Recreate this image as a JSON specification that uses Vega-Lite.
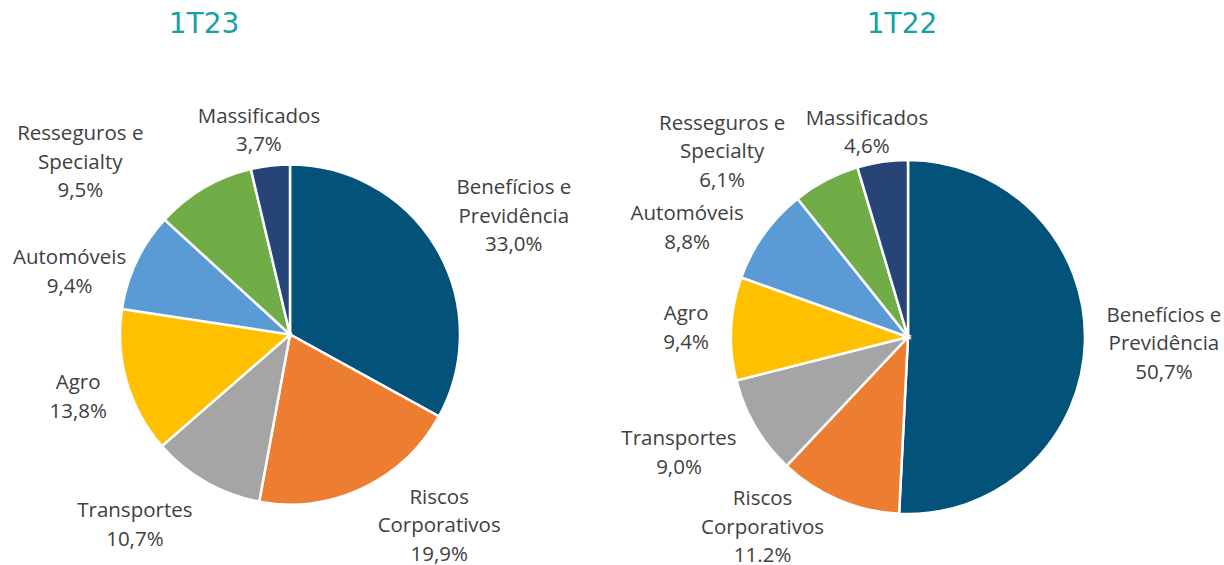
{
  "$schema": "https://vega.github.io/schema/vega-lite/v6.json",
  "padding": {"top": 10, "left": 0, "right": 0, "bottom": 0},
  "spacing": 12,
  "background": "white",
  "config": {
    "view": {"stroke": null},
    "title": {"font": "DejaVu Sans", "fontSize": 28, "fontWeight": "normal", "color": "#14A0A7", "anchor": "middle"}
  },
  "datasets": {
    "shares": [
      {"period": "1T23", "idx": 1, "cat": "Benefícios e Previdência", "value": 33.0, "label": "Benefícios e\nPrevidência\n33,0%"},
      {"period": "1T23", "idx": 2, "cat": "Riscos Corporativos", "value": 19.9, "label": "Riscos\nCorporativos\n19,9%"},
      {"period": "1T23", "idx": 3, "cat": "Transportes", "value": 10.7, "label": "Transportes\n10,7%"},
      {"period": "1T23", "idx": 4, "cat": "Agro", "value": 13.8, "label": "Agro\n13,8%"},
      {"period": "1T23", "idx": 5, "cat": "Automóveis", "value": 9.4, "label": "Automóveis\n9,4%"},
      {"period": "1T23", "idx": 6, "cat": "Resseguros e Specialty", "value": 9.5, "label": "Resseguros e\nSpecialty\n9,5%"},
      {"period": "1T23", "idx": 7, "cat": "Massificados", "value": 3.7, "label": "Massificados\n3,7%"},
      {"period": "1T22", "idx": 1, "cat": "Benefícios e Previdência", "value": 50.7, "label": "Benefícios e\nPrevidência\n50,7%"},
      {"period": "1T22", "idx": 2, "cat": "Riscos Corporativos", "value": 11.2, "label": "Riscos\nCorporativos\n11.2%"},
      {"period": "1T22", "idx": 3, "cat": "Transportes", "value": 9.0, "label": "Transportes\n9,0%"},
      {"period": "1T22", "idx": 4, "cat": "Agro", "value": 9.4, "label": "Agro\n9,4%"},
      {"period": "1T22", "idx": 5, "cat": "Automóveis", "value": 8.8, "label": "Automóveis\n8,8%"},
      {"period": "1T22", "idx": 6, "cat": "Resseguros e Specialty", "value": 6.1, "label": "Resseguros e\nSpecialty\n6,1%"},
      {"period": "1T22", "idx": 7, "cat": "Massificados", "value": 4.6, "label": "Massificados\n4,6%"}
    ]
  },
  "hconcat": [
    {
      "width": 580,
      "height": 457,
      "title": {"text": "1T23", "dx": -86, "offset": 67.5},
      "data": {"name": "shares"},
      "transform": [{"filter": "datum.period === '1T23'"}],
      "layer": [
        {
          "mark": {"type": "arc", "outerRadius": 170, "stroke": "white", "strokeWidth": 2.5},
          "encoding": {
            "theta": {"field": "value", "type": "quantitative", "stack": true},
            "order": {"field": "idx", "type": "quantitative"},
            "color": {
              "field": "cat", "type": "nominal", "legend": null,
              "scale": {
                "domain": ["Benefícios e Previdência", "Riscos Corporativos", "Transportes", "Agro", "Automóveis", "Resseguros e Specialty", "Massificados"],
                "range": ["#03527A", "#ED7D31", "#A5A5A5", "#FFC000", "#5B9BD5", "#70AD47", "#264478"]
              }
            }
          }
        },
        {
          "mark": {
            "type": "text", "font": "Open Sans", "fontSize": 20.5, "color": "#404040",
            "lineBreak": "\n", "lineHeight": 28.5, "align": "center", "baseline": "middle",
            "dy": {"expr": "datum.idx === 1 || datum.idx === 2 || datum.idx === 6 ? -28.5 : -14.25"},
            "radius": {"expr": "datum.idx === 1 ? 253 : datum.idx === 2 ? 243 : datum.idx === 3 ? 246 : datum.idx === 4 ? 221 : datum.idx === 5 ? 229 : datum.idx === 6 ? 271 : 206"},
            "thetaOffset": {"expr": "datum.idx === 1 ? 0.049 : datum.idx === 2 ? -0.218 : datum.idx === 3 ? 0.164 : datum.idx === 4 ? -0.006 : datum.idx === 5 ? -0.171 : datum.idx === 6 ? -0.354 : -0.035"}
          },
          "encoding": {
            "theta": {"field": "value", "type": "quantitative", "stack": true},
            "order": {"field": "idx", "type": "quantitative"},
            "detail": {"field": "cat", "type": "nominal"},
            "text": {"field": "label", "type": "nominal"}
          }
        }
      ]
    },
    {
      "width": 632,
      "height": 462,
      "title": {"text": "1T22", "dx": -6, "offset": 67.5},
      "data": {"name": "shares"},
      "transform": [{"filter": "datum.period === '1T22'"}],
      "layer": [
        {
          "mark": {"type": "arc", "outerRadius": 177, "stroke": "white", "strokeWidth": 2.5},
          "encoding": {
            "theta": {"field": "value", "type": "quantitative", "stack": true},
            "order": {"field": "idx", "type": "quantitative"},
            "color": {
              "field": "cat", "type": "nominal", "legend": null,
              "scale": {
                "domain": ["Benefícios e Previdência", "Riscos Corporativos", "Transportes", "Agro", "Automóveis", "Resseguros e Specialty", "Massificados"],
                "range": ["#03527A", "#ED7D31", "#A5A5A5", "#FFC000", "#5B9BD5", "#70AD47", "#264478"]
              }
            }
          }
        },
        {
          "mark": {
            "type": "text", "font": "Open Sans", "fontSize": 20.5, "color": "#404040",
            "lineBreak": "\n", "lineHeight": 28.5, "align": "center", "baseline": "middle",
            "dy": {"expr": "datum.idx === 1 || datum.idx === 2 || datum.idx === 6 ? -28.5 : -14.25"},
            "radius": {"expr": "datum.idx === 1 ? 256 : datum.idx === 2 ? 240 : datum.idx === 3 ? 257 : datum.idx === 4 ? 222 : datum.idx === 5 ? 246 : datum.idx === 6 ? 262 : 208"},
            "thetaOffset": {"expr": "datum.idx === 1 ? 0.004 : datum.idx === 2 ? 0.248 : datum.idx === 3 ? 0.061 : datum.idx === 4 ? -0.009 : datum.idx === 5 ? -0.164 : datum.idx === 6 ? -0.307 : -0.054"}
          },
          "encoding": {
            "theta": {"field": "value", "type": "quantitative", "stack": true},
            "order": {"field": "idx", "type": "quantitative"},
            "detail": {"field": "cat", "type": "nominal"},
            "text": {"field": "label", "type": "nominal"}
          }
        }
      ]
    }
  ]
}
